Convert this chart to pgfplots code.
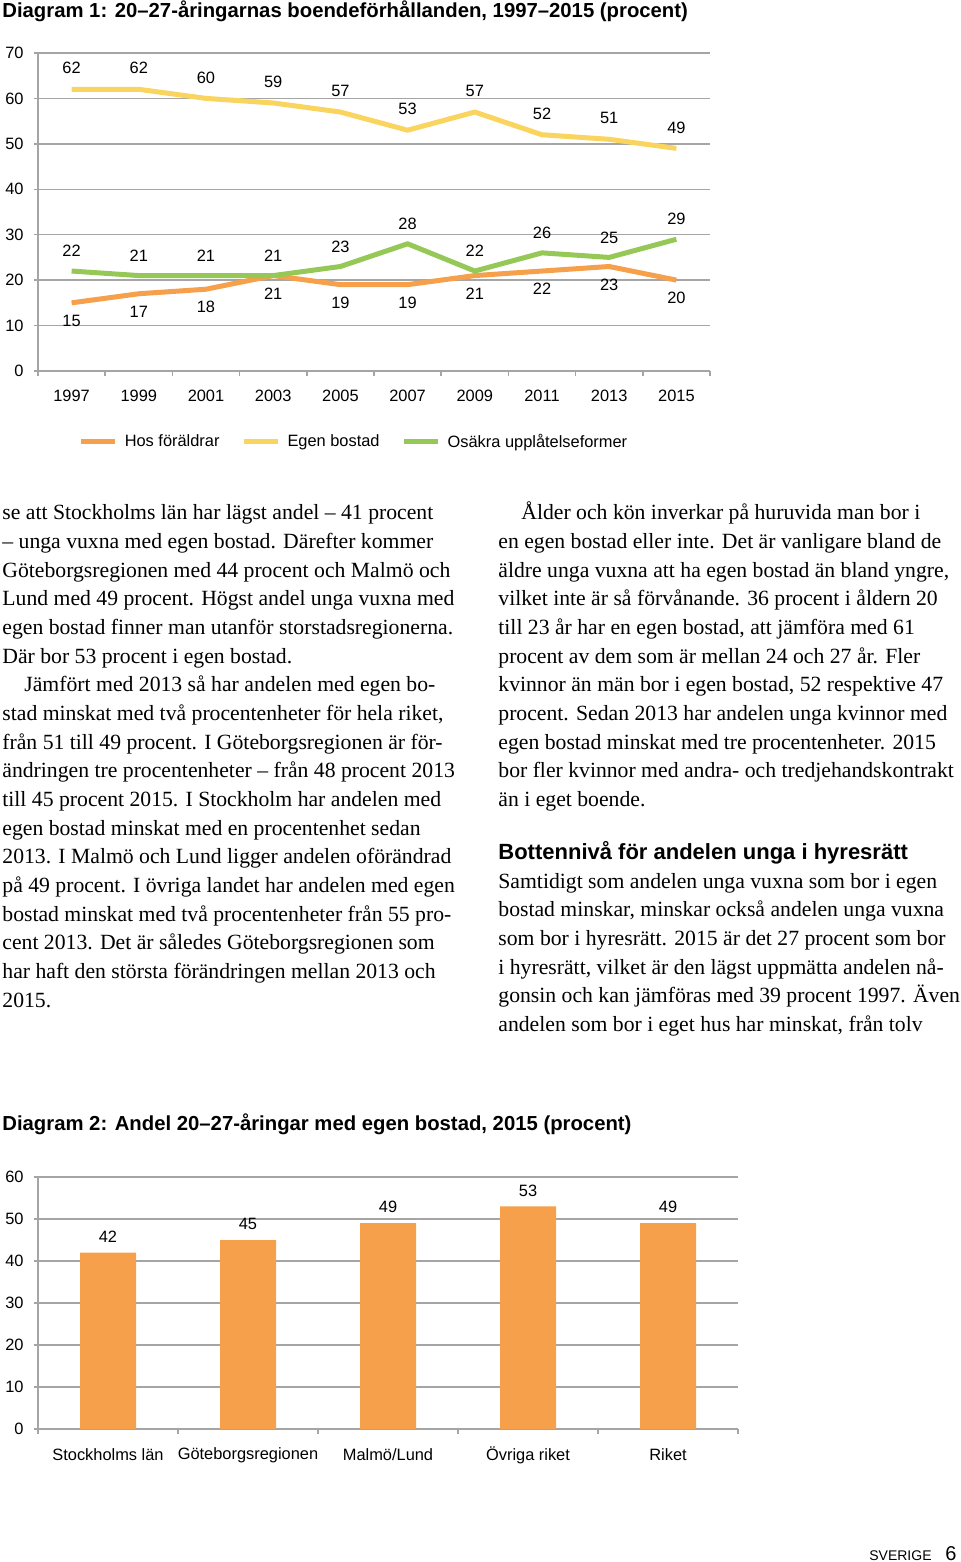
\documentclass[border=0pt]{standalone}
\usepackage{pgfplots}
\pgfplotsset{compat=1.18}
\usepackage{fontspec}
\setmainfont{Liberation Serif}
\newfontfamily\chartfont{Liberation Sans}
\definecolor{cOr}{HTML}{F6A04B}
\definecolor{cYe}{HTML}{F9D45E}
\definecolor{cGr}{HTML}{95C857}
\definecolor{cGrid}{HTML}{A5A5A5}
\newcommand\cf{\chartfont\fontsize{8.2}{10}\selectfont}
\newcommand\bodyfont{\fontsize{10.85}{14}\selectfont}
\newcommand\Lline[3]{\node[anchor=base west, inner sep=0pt, font=\bodyfont] at ({#1},{1562-520-28.65*#2}) {#3};}
\pgfplotsset{
  pagechart/.style={
    scale only axis, anchor=south west,
    axis x line=bottom, axis y line=left,
    axis line style={cGrid, line width=0.75pt, -},
    ymajorgrids, grid style={cGrid, line width=0.75pt},
    tick style={cGrid, line width=0.75pt},
    major x tick style={draw=none},
    tick align=outside, major tick length=2pt, minor tick length=2.5pt,
    tick label style={font=\cf, text=black},
    yticklabel style={anchor=east, inner sep=0pt, xshift=-5pt},
    xticklabel style={anchor=center, inner sep=0pt},
    /pgf/number format/assume math mode=true,
    clip=false,
  }
}
\begin{document}
\begin{tikzpicture}[x=0.5pt,y=0.5pt]
\useasboundingbox (0,0) rectangle (960,1562);
% ---------- Diagram 1 ----------
\node[anchor=base west, inner sep=0pt, font=\chartfont\bfseries\fontsize{10.15}{12}\selectfont] at (2,{1562-18}) {Diagram 1: 20–27-åringarnas boendeförhållanden, 1997–2015 (procent)};
\begin{axis}[pagechart,
  at={(19pt,595.5pt)}, width=336pt, height=159pt,
  xmin=-0.5, xmax=9.5, ymin=0, ymax=70,
  ytick={0,10,...,70},
  xtick={0,...,9},
  xticklabels={1997,1999,2001,2003,2005,2007,2009,2011,2013,2015},
  minor xtick={-0.5,0.5,...,9.5},
  xticklabel style={yshift=-10.5pt},
  legend style={at={(0.4717,-0.2233)}, anchor=center, draw=none, fill=none,
    legend columns=3, font=\cf,
    /tikz/every odd column/.append style={column sep=1.5pt},
    /tikz/every even column/.append style={column sep=9pt}},
  legend image code/.code={\draw[#1, line width=2.5pt] (0pt,0pt) -- (17pt,0pt);},
]
\addplot[cOr, line width=2.5pt, line join=round, mark=none,
  nodes near coords, every node near coord/.append style={anchor=center, yshift=-9pt, font=\cf, text=black}]
  coordinates {(0,15)(1,17)(2,18)(3,21)(4,19)(5,19)(6,21)(7,22)(8,23)(9,20)};
\addlegendentry{Hos föräldrar}
\addplot[cYe, line width=2.5pt, line join=round, mark=none,
  nodes near coords, every node near coord/.append style={anchor=center, yshift=10.5pt, font=\cf, text=black}]
  coordinates {(0,62)(1,62)(2,60)(3,59)(4,57)(5,53)(6,57)(7,52)(8,51)(9,49)};
\addlegendentry{Egen bostad}
\addplot[cGr, line width=2.5pt, line join=round, mark=none,
  nodes near coords, every node near coord/.append style={anchor=center, yshift=10pt, font=\cf, text=black}]
  coordinates {(0,22)(1,21)(2,21)(3,21)(4,23)(5,28)(6,22)(7,26)(8,25)(9,29)};
\addlegendentry{Osäkra upplåtelseformer}
\end{axis}
% ---------- Body text ----------
\Lline{2}{0}{se att Stockholms län har lägst andel – 41 procent}
\Lline{2}{1}{– unga vuxna med egen bostad. Därefter kommer}
\Lline{2}{2}{Göteborgsregionen med 44 procent och Malmö och}
\Lline{2}{3}{Lund med 49 procent. Högst andel unga vuxna med}
\Lline{2}{4}{egen bostad finner man utanför storstadsregionerna.}
\Lline{2}{5}{Där bor 53 procent i egen bostad.}
\Lline{24}{6}{Jämfört med 2013 så har andelen med egen bo-}
\Lline{2}{7}{stad minskat med två procentenheter för hela riket,}
\Lline{2}{8}{från 51 till 49 procent. I Göteborgsregionen är för-}
\Lline{2}{9}{ändringen tre procentenheter – från 48 procent 2013}
\Lline{2}{10}{till 45 procent 2015. I Stockholm har andelen med}
\Lline{2}{11}{egen bostad minskat med en procentenhet sedan}
\Lline{2}{12}{2013. I Malmö och Lund ligger andelen oförändrad}
\Lline{2}{13}{på 49 procent. I övriga landet har andelen med egen}
\Lline{2}{14}{bostad minskat med två procentenheter från 55 pro-}
\Lline{2}{15}{cent 2013. Det är således Göteborgsregionen som}
\Lline{2}{16}{har haft den största förändringen mellan 2013 och}
\Lline{2}{17}{2015.}
\Lline{521}{0}{Ålder och kön inverkar på huruvida man bor i}
\Lline{498}{1}{en egen bostad eller inte. Det är vanligare bland de}
\Lline{498}{2}{äldre unga vuxna att ha egen bostad än bland yngre,}
\Lline{498}{3}{vilket inte är så förvånande. 36 procent i åldern 20}
\Lline{498}{4}{till 23 år har en egen bostad, att jämföra med 61}
\Lline{498}{5}{procent av dem som är mellan 24 och 27 år. Fler}
\Lline{498}{6}{kvinnor än män bor i egen bostad, 52 respektive 47}
\Lline{498}{7}{procent. Sedan 2013 har andelen unga kvinnor med}
\Lline{498}{8}{egen bostad minskat med tre procentenheter. 2015}
\Lline{498}{9}{bor fler kvinnor med andra- och tredjehandskontrakt}
\Lline{498}{10}{än i eget boende.}
\node[anchor=base west, inner sep=0pt, font=\chartfont\bfseries\fontsize{11}{13}\selectfont] at (498,{1562-860}) {Bottennivå för andelen unga i hyresrätt};
\Lline{498}{12.85}{Samtidigt som andelen unga vuxna som bor i egen}
\Lline{498}{13.85}{bostad minskar, minskar också andelen unga vuxna}
\Lline{498}{14.85}{som bor i hyresrätt. 2015 är det 27 procent som bor}
\Lline{498}{15.85}{i hyresrätt, vilket är den lägst uppmätta andelen nå-}
\Lline{498}{16.85}{gonsin och kan jämföras med 39 procent 1997. Även}
\Lline{498}{17.85}{andelen som bor i eget hus har minskat, från tolv}
% ---------- Diagram 2 ----------
\node[anchor=base west, inner sep=0pt, font=\chartfont\bfseries\fontsize{10.15}{12}\selectfont] at (2,{1562-1131}) {Diagram 2: Andel 20–27-åringar med egen bostad, 2015 (procent)};
\begin{axis}[pagechart,
  at={(19pt,66.5pt)}, width=350pt, height=126pt,
  xmin=-0.5, xmax=4.5, ymin=0, ymax=60,
  ytick={0,10,...,60},
  xtick={0,...,4},
  xticklabels={Stockholms län, Göteborgsregionen, Malmö/Lund, Övriga riket, Riket},
  minor xtick={-0.5,0.5,...,4.5},
  xticklabel style={yshift=-11pt},
]
\addplot[ybar, bar width=28pt, fill=cOr, draw=none,
  nodes near coords, every node near coord/.append style={anchor=center, yshift=8pt, font=\cf, text=black}]
  coordinates {(0,42)(1,45)(2,49)(3,53)(4,49)};
\end{axis}
% ---------- Footer ----------
\node[anchor=base east, inner sep=0pt, font=\chartfont\fontsize{7}{8}\selectfont] at (932,{1562-1560}) {SVERIGE};
\node[anchor=base east, inner sep=0pt, font=\chartfont\fontsize{10}{12}\selectfont] at (957,{1562-1560}) {6};
\end{tikzpicture}
\end{document}
